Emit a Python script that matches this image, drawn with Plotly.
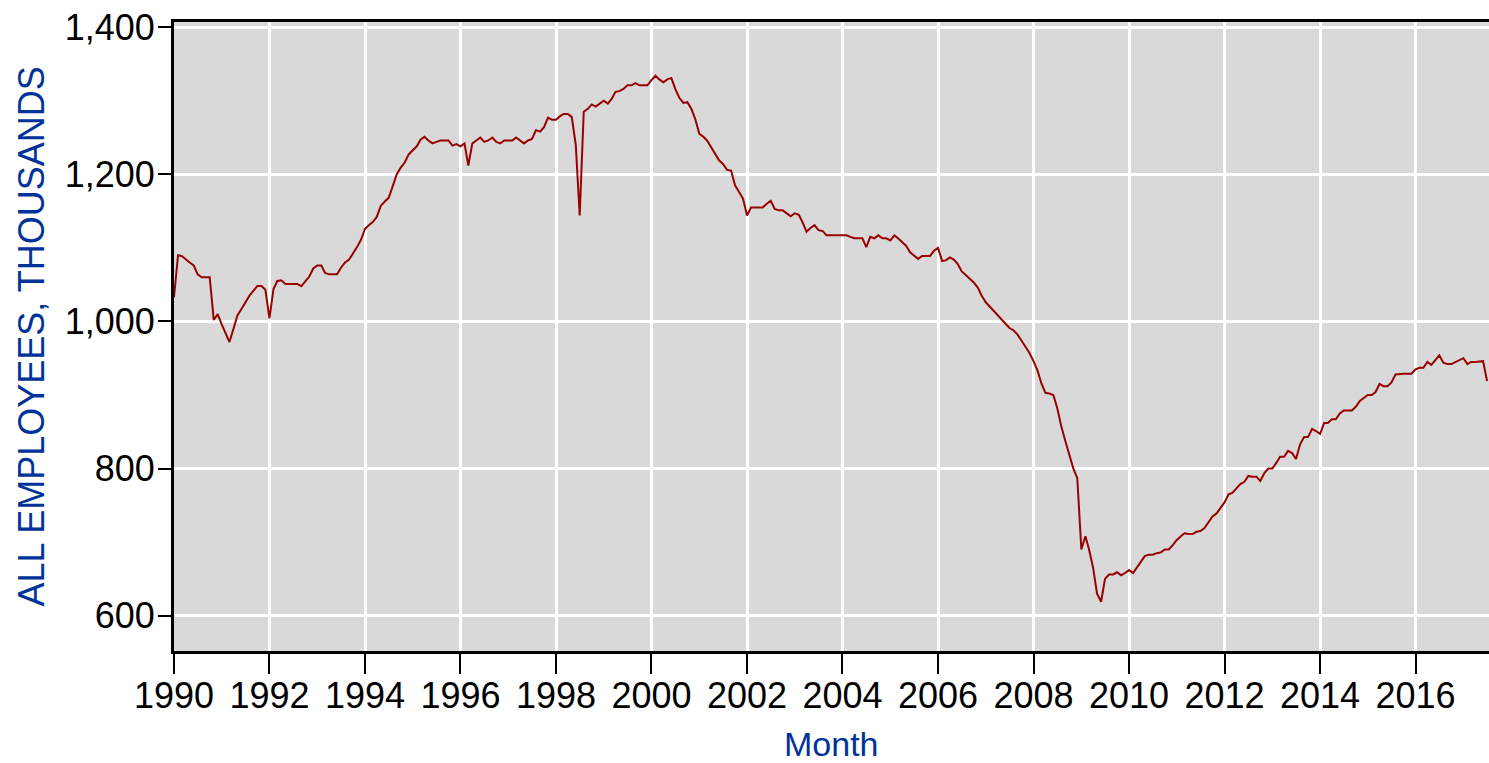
import pandas as pd
import plotly.graph_objects as go

# Monthly values (thousands)
emp_1990s = [
    1033, 1090, 1089, 1084, 1080, 1076, 1064, 1060, 1060, 1060, 1002, 1010,
    996, 982, 972, 990, 1008, 1017, 1026, 1035, 1042, 1048, 1048, 1043,
    1004, 1044, 1055, 1056, 1051, 1051, 1051, 1051, 1048, 1054, 1061, 1072,
    1076, 1076, 1066, 1064, 1064, 1064, 1073, 1080, 1084, 1092, 1101, 1111,
    1126, 1131, 1135, 1142, 1157, 1163, 1168, 1184, 1200, 1209, 1216, 1227,
    1232, 1238, 1247, 1251, 1246, 1242, 1244, 1246, 1246, 1246, 1239, 1241,
    1238, 1242, 1212, 1242, 1246, 1250, 1244, 1246, 1250, 1244, 1242, 1246,
    1246, 1246, 1250, 1246, 1242, 1246, 1248, 1260, 1258, 1264, 1277, 1274,
    1274, 1279, 1282, 1282, 1278, 1240, 1144, 1285, 1289, 1295, 1292, 1296,
    1300, 1296, 1302, 1312, 1313, 1316, 1321, 1321, 1324, 1321, 1321, 1321,
]
emp_2000s = [
    1328, 1334, 1329, 1325, 1329, 1331, 1316, 1304, 1297, 1298, 1289, 1275,
    1255, 1251, 1246, 1237, 1228, 1219, 1214, 1206, 1205, 1185, 1176, 1167,
    1144, 1155, 1155, 1155, 1155, 1160, 1164, 1153, 1151, 1151, 1147, 1143,
    1147, 1145, 1135, 1122, 1127, 1131, 1124, 1123, 1117, 1117, 1117, 1117,
    1117, 1117, 1115, 1113, 1113, 1113, 1101, 1115, 1113, 1117, 1113, 1113,
    1110, 1117, 1113, 1108, 1103, 1094, 1089, 1085, 1089, 1089, 1089, 1096,
    1100, 1082, 1083, 1087, 1084, 1078, 1068, 1063, 1058, 1053, 1046, 1035,
    1026, 1020, 1016, 1010, 1004, 997, 991, 988, 982, 974, 966, 957,
    946, 933, 916, 903, 902, 900, 882, 857, 837, 818, 800, 787,
    690, 708, 690, 665, 630, 619, 650, 656, 656, 659, 655, 658,
]
emp_2010s = [
    662, 658, 665, 674, 681, 683, 683, 685, 686, 690, 690, 696,
    703, 708, 712, 711, 711, 714, 715, 719, 728, 735, 739, 747,
    754, 765, 767, 773, 779, 782, 790, 789, 789, 783, 794, 800,
    800, 808, 816, 816, 824, 821, 813, 833, 843, 843, 854, 851,
    847, 862, 862, 867, 867, 875, 879, 879, 879, 884, 892, 896,
    900, 900, 904, 915, 912, 912, 917, 928, 929, 929, 929, 929,
    935, 937, 937, 945, 941, 948, 954, 944, 942, 942, 945, 948,
    950, 942, 945, 945, 945, 946, 919,
]
first_month = "1990-01-01"
y_ticks = [600, 800, 1000, 1200, 1400]
x_title = "Month"
y_title = "ALL EMPLOYEES, THOUSANDS"

values = emp_1990s + emp_2000s + emp_2010s
months = pd.date_range(first_month, periods=len(values), freq="MS")

font_family = "Liberation Sans, Arial, sans-serif"
blue = "#003399"

fig = go.Figure(
    go.Scatter(
        x=months, y=values, mode="lines",
        line=dict(color="#990000", width=2),
        hoverinfo="x+y",
    )
)

fig.update_layout(
    width=1489, height=763,
    margin=dict(l=174, r=0, t=22, b=112),
    paper_bgcolor="white",
    plot_bgcolor="#d9d9d9",
    showlegend=False,
    font=dict(family=font_family, size=36, color="black"),
    xaxis=dict(
        type="date",
        range=["1990-01-01", "2017-07-16"],
        tick0="1990-01-01", dtick="M24", tickformat="%Y",
        ticks="outside", ticklen=20, tickwidth=2, tickcolor="black",
        ticklabelstandoff=-9, ticklabeloverflow="allow",
        showline=True, linecolor="black", linewidth=3, mirror=True,
        showgrid=True, gridcolor="white", gridwidth=3,
        zeroline=False, automargin=False,
        tickfont=dict(family=font_family, size=36, color="black"),
    ),
    yaxis=dict(
        range=[552, 1407],
        tickvals=y_ticks, tickformat=",d",
        ticks="outside", ticklen=13, tickwidth=2, tickcolor="black",
        ticklabelstandoff=-4, ticklabeloverflow="allow",
        showline=True, linecolor="black", linewidth=3,
        showgrid=True, gridcolor="white", gridwidth=3,
        zeroline=False, automargin=False,
        tickfont=dict(family=font_family, size=36, color="black"),
    ),
    annotations=[
        dict(
            text=x_title, xref="paper", yref="paper", x=0.5, y=0,
            xanchor="center", yanchor="middle", yshift=-93, showarrow=False,
            font=dict(family=font_family, size=34, color=blue),
        ),
        dict(
            text=y_title, xref="paper", yref="paper", x=0, y=0.5,
            xanchor="center", yanchor="middle", xshift=-143, textangle=-90,
            showarrow=False,
            font=dict(family=font_family, size=36, color=blue),
        ),
    ],
)

# Remove the default page margin so the 1489x763 figure fills the window exactly.
fig.write_html(
    "out.html",
    config={"displayModeBar": False},
    post_script="document.body.style.margin='0';document.documentElement.style.overflow='hidden';",
)
